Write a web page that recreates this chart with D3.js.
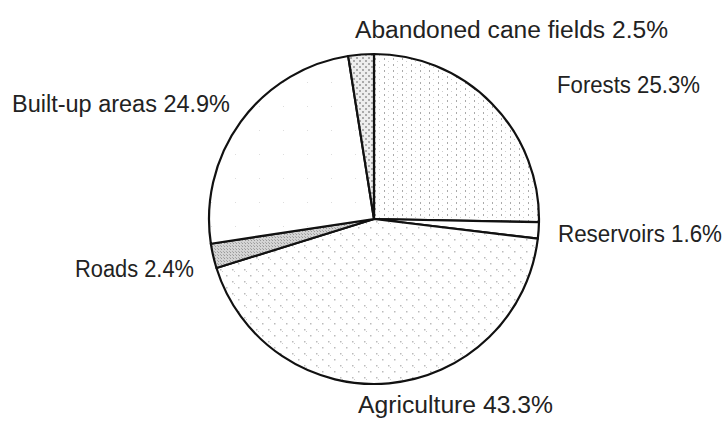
<!DOCTYPE html>
<html>
<head>
<meta charset="utf-8">
<title>Land use</title>
<style>
  body { margin: 0; background: #fff; }
  text { font-family: "Liberation Sans", Arial, sans-serif; fill: #222; }
</style>
</head>
<body>
<script src="https://cdn.jsdelivr.net/npm/d3@7"></script>
<script>
// land use shares, clockwise from 12 o'clock
var categories = ["Forests", "Reservoirs", "Agriculture", "Roads", "Built-up areas", "Abandoned cane fields"];
var shares = [25.3, 1.6, 43.3, 2.4, 24.9, 2.5];
var labels = ["Forests 25.3%", "Reservoirs 1.6%", "Agriculture 43.3%", "Roads 2.4%", "Built-up areas 24.9%", "Abandoned cane fields 2.5%"];

var width = 727, height = 434;
var cx = 374, cy = 219, r = 165;

var svg = d3.select("body").append("svg")
    .attr("width", width)
    .attr("height", height);

var defs = svg.append("defs");

// vertical dot columns (forests)
var p1 = defs.append("pattern").attr("id", "pForest")
    .attr("patternUnits", "userSpaceOnUse").attr("width", 9).attr("height", 6);
p1.append("rect").attr("width", 9).attr("height", 6).attr("fill", "#fff");
p1.append("rect").attr("x", 1).attr("y", 1).attr("width", 1).attr("height", 2).attr("fill", "#aaa");
p1.append("rect").attr("x", 5).attr("y", 4).attr("width", 1).attr("height", 1).attr("fill", "#ccc");

// diagonal dotted lines (agriculture)
var p2 = defs.append("pattern").attr("id", "pAgri")
    .attr("patternUnits", "userSpaceOnUse").attr("width", 12).attr("height", 12);
p2.append("rect").attr("width", 12).attr("height", 12).attr("fill", "#fff");
p2.append("rect").attr("x", 2).attr("y", 2).attr("width", 1.5).attr("height", 1.5).attr("fill", "#bbb");
p2.append("rect").attr("x", 4).attr("y", 4).attr("width", 1).attr("height", 1).attr("fill", "#ccc");
p2.append("rect").attr("x", 8).attr("y", 8).attr("width", 1.5).attr("height", 1.5).attr("fill", "#bbb");

// dense cross-hatch (roads)
var p3 = defs.append("pattern").attr("id", "pRoads")
    .attr("patternUnits", "userSpaceOnUse").attr("width", 3).attr("height", 3);
p3.append("rect").attr("width", 3).attr("height", 3).attr("fill", "#d4d4d4");
p3.append("rect").attr("width", 1).attr("height", 1).attr("fill", "#999");
p3.append("rect").attr("x", 2).attr("y", 2).attr("width", 1).attr("height", 1).attr("fill", "#aaa");

// checker dots (abandoned cane fields)
var p4 = defs.append("pattern").attr("id", "pCane")
    .attr("patternUnits", "userSpaceOnUse").attr("width", 6).attr("height", 6);
p4.append("rect").attr("width", 6).attr("height", 6).attr("fill", "#eee");
p4.append("rect").attr("x", 0).attr("y", 0).attr("width", 2).attr("height", 2).attr("fill", "#aaa");
p4.append("rect").attr("x", 3).attr("y", 3).attr("width", 2).attr("height", 2).attr("fill", "#aaa");

// sparse dots (built-up)
var p5 = defs.append("pattern").attr("id", "pBuilt")
    .attr("patternUnits", "userSpaceOnUse").attr("width", 24).attr("height", 24);
p5.append("rect").attr("width", 24).attr("height", 24).attr("fill", "#fff");
p5.append("rect").attr("x", 5).attr("y", 7).attr("width", 1).attr("height", 1).attr("fill", "#ddd");

var fills = ["url(#pForest)", "#fff", "url(#pAgri)", "url(#pRoads)", "url(#pBuilt)", "url(#pCane)"];

var pie = d3.pie().sort(null).value(function(d) { return d; });
var arc = d3.arc().innerRadius(0).outerRadius(r);

var arcs = pie(shares);

var g = svg.append("g").attr("transform", "translate(" + cx + "," + cy + ")");

g.selectAll("path")
    .data(arcs)
    .enter().append("path")
    .attr("d", arc)
    .attr("fill", function(d, i) { return fills[i]; })
    .attr("stroke", "#111")
    .attr("stroke-width", 2.2)
    .attr("stroke-linejoin", "round");

// label placement relative to pie centre: [left x, baseline y, text width]
var labelPos = {
    "Forests": [183, -126, 143],
    "Reservoirs": [184, 23, 164],
    "Agriculture": [-16, 194, 195],
    "Roads": [-299, 58, 119],
    "Built-up areas": [-362, -107, 218],
    "Abandoned cane fields": [-19, -181, 313]
};

svg.append("g").selectAll("text")
    .data(categories)
    .enter().append("text")
    .attr("x", function(d) { return cx + labelPos[d][0]; })
    .attr("y", function(d) { return cy + labelPos[d][1]; })
    .attr("textLength", function(d) { return labelPos[d][2]; })
    .attr("lengthAdjust", "spacingAndGlyphs")
    .attr("font-size", 23)
    .text(function(d, i) { return labels[i]; });
</script>
</body>
</html>
